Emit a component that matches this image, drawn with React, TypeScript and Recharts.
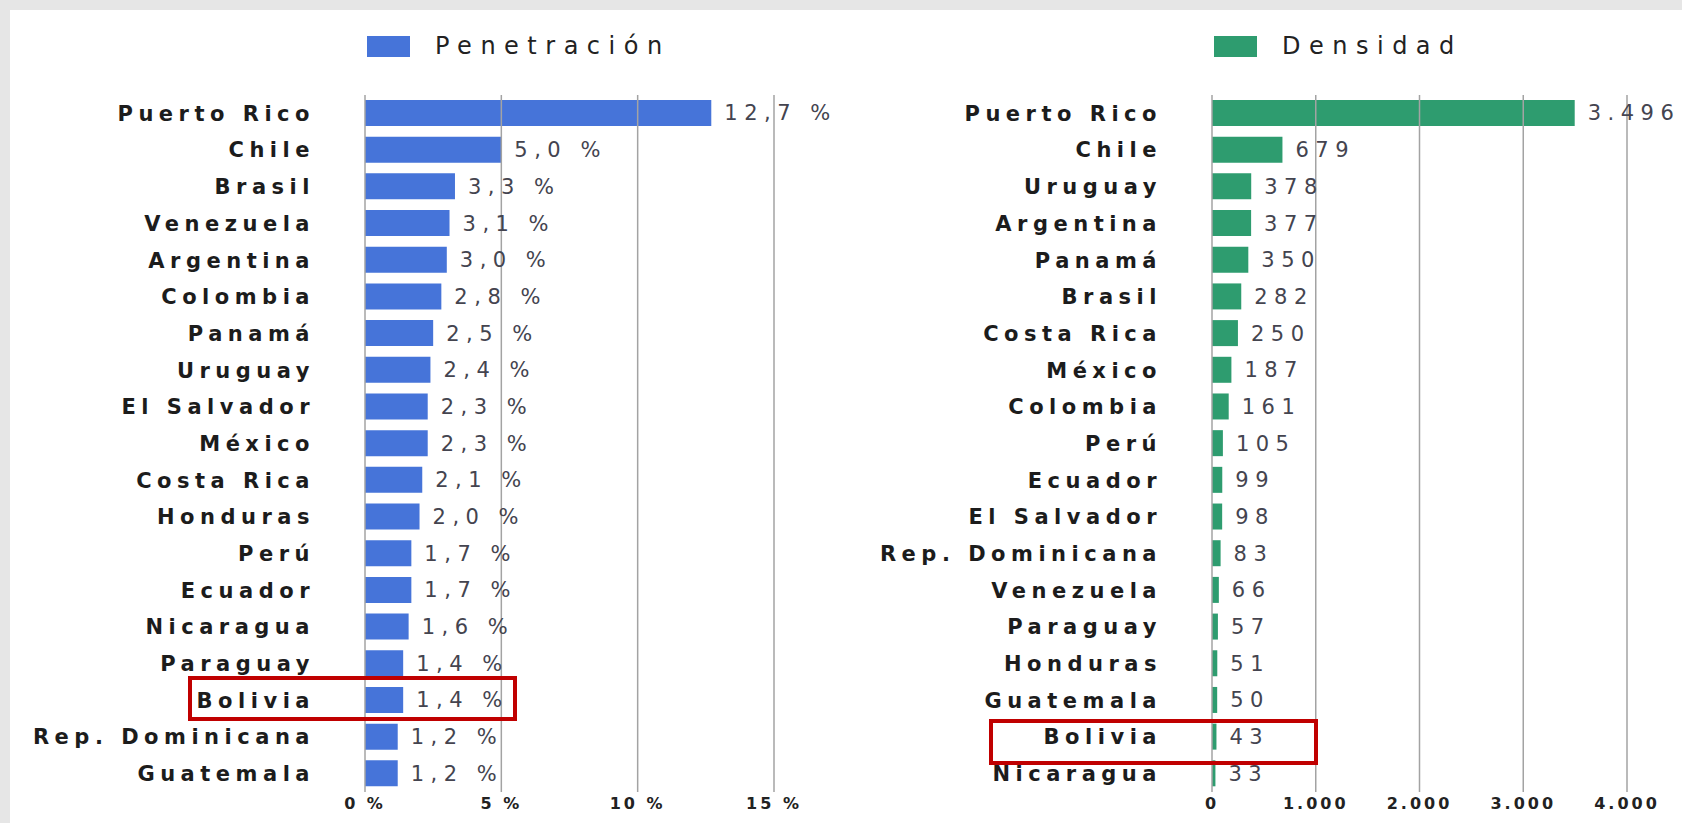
// @ts-nocheck
import { BarChart, Bar, XAxis, YAxis, ReferenceLine, LabelList, Legend } from 'recharts'

const penCountries = ['Puerto Rico', 'Chile', 'Brasil', 'Venezuela', 'Argentina', 'Colombia', 'Panamá', 'Uruguay', 'El Salvador', 'México', 'Costa Rica', 'Honduras', 'Perú', 'Ecuador', 'Nicaragua', 'Paraguay', 'Bolivia', 'Rep. Dominicana', 'Guatemala']
const penValues = [12.7, 5.0, 3.3, 3.1, 3.0, 2.8, 2.5, 2.4, 2.3, 2.3, 2.1, 2.0, 1.7, 1.7, 1.6, 1.4, 1.4, 1.2, 1.2]
const penTicks = [0, 5, 10, 15]

const denCountries = ['Puerto Rico', 'Chile', 'Uruguay', 'Argentina', 'Panamá', 'Brasil', 'Costa Rica', 'México', 'Colombia', 'Perú', 'Ecuador', 'El Salvador', 'Rep. Dominicana', 'Venezuela', 'Paraguay', 'Honduras', 'Guatemala', 'Bolivia', 'Nicaragua']
const denValues = [3496, 679, 378, 377, 350, 282, 250, 187, 161, 105, 99, 98, 83, 66, 57, 51, 50, 43, 33]
const denTicks = [0, 1000, 2000, 3000, 4000]

const BLUE = '#4674d9'
const GREEN = '#2e9c6f'
const GRID = '#a3a3a3'
const FONT = '"DejaVu Sans", sans-serif'

const fmtPct = v => v.toFixed(1).replace('.', ',') + ' %'
const fmtNum = v => String(v).replace(/\B(?=(\d{3})+(?!\d))/g, '.')

const catTick = { fontSize: 21, fontWeight: 'bold', fill: '#1c1c1c', fontFamily: FONT, letterSpacing: 5.5 }
const numTick = { fontSize: 16, fontWeight: 'bold', fill: '#222', fontFamily: FONT, letterSpacing: 3 }
const valLabel = { fontSize: 21, fill: '#44444f', fontFamily: FONT, letterSpacing: 6.5 }

function LegendBox({ color, label }) {
  return (
    <div style={{ display: 'flex', alignItems: 'center', fontFamily: FONT }}>
      <div style={{ width: 43, height: 21, background: color }} />
      <span style={{ marginLeft: 25, fontSize: 24, letterSpacing: 8.5, color: '#222', lineHeight: '26px' }}>{label}</span>
    </div>
  )
}

function Panel({ data, ticks, domain, color, legend, fmtTick, fmtVal, width, yWidth, right, legendLeft }) {
  return (
    <BarChart width={width} height={823} data={data} layout="vertical" margin={{ top: 95, right, bottom: 1, left: 0 }}>
      <XAxis type="number" domain={domain} ticks={ticks} tickFormatter={fmtTick} axisLine={false} tickLine={false} tickSize={0} tickMargin={6} height={30} tick={numTick} />
      <YAxis type="category" dataKey="name" width={yWidth} interval={0} axisLine={false} tickLine={false} tickSize={0} tickMargin={50} tick={catTick} />
      <Legend verticalAlign="middle" align="center" wrapperStyle={{ top: 33, left: legendLeft, width: 400 }} content={() => <LegendBox color={color} label={legend} />} />
      <Bar dataKey="value" fill={color} barSize={26} isAnimationActive={false}>
        <LabelList dataKey="value" position="right" offset={13} formatter={fmtVal} {...valLabel} />
      </Bar>
      {ticks.map(t => <ReferenceLine key={t} x={t} stroke={GRID} strokeWidth={1.5} />)}
    </BarChart>
  )
}

export default function App() {
  const penData = penCountries.map((name, i) => ({ name, value: penValues[i] }))
  const denData = denCountries.map((name, i) => ({ name, value: denValues[i] }))
  return (
    <div style={{ position: 'relative', width: 1682, height: 823, background: '#e6e6e6', overflow: 'hidden' }}>
      <style>{'body{margin:0}'}</style>
      <div style={{ position: 'absolute', left: 10, top: 10, right: 0, bottom: 0, background: '#fff' }} />
      <div style={{ position: 'absolute', left: 0, top: 0 }}>
        <Panel data={penData} ticks={penTicks} domain={[0, 15]} color={BLUE} legend="Penetración" fmtTick={v => v + ' %'} fmtVal={fmtPct} width={850} yWidth={365} right={76} legendLeft={367} />
      </div>
      <div style={{ position: 'absolute', left: 850, top: 0 }}>
        <Panel data={denData} ticks={denTicks} domain={[0, 4000]} color={GREEN} legend="Densidad" fmtTick={fmtNum} fmtVal={fmtNum} width={832} yWidth={362} right={55} legendLeft={364} />
      </div>
      <div style={{ position: 'absolute', left: 188, top: 676, width: 329, height: 45, border: '4px solid #c00000', boxSizing: 'border-box' }} />
      <div style={{ position: 'absolute', left: 989, top: 719, width: 329, height: 46, border: '4px solid #c00000', boxSizing: 'border-box' }} />
    </div>
  )
}
